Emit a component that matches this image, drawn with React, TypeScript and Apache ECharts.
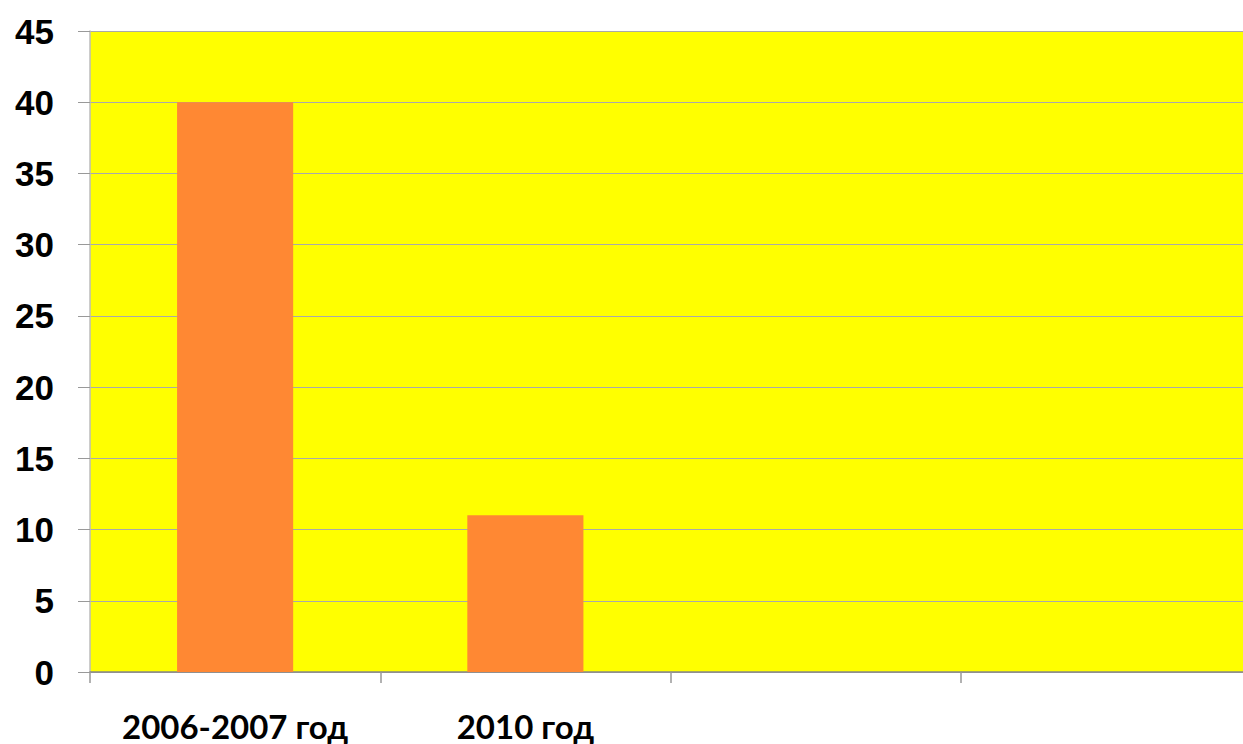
import React, { useEffect, useRef } from "react";
import * as echarts from "echarts";

const categories = ["2006-2007 год", "2010 год", "", ""];
const values = [40, 11, null, null];
const yTicks = { min: 0, max: 45, interval: 5 };

export default function App() {
  const ref = useRef<HTMLDivElement>(null);
  useEffect(() => {
    const chart = echarts.init(ref.current!, undefined, { renderer: "svg" });
    chart.setOption({
      animation: false,
      grid: {
        left: 90,
        right: 0,
        top: 31,
        bottom: 72,
        show: true,
        backgroundColor: "#FFFF00",
        borderWidth: 0,
      },
      xAxis: {
        type: "category",
        data: categories,
        axisLine: { show: true, lineStyle: { color: "#888888", width: 1.5 } },
        axisTick: { show: true, interval: 0, length: 11, alignWithLabel: false, lineStyle: { color: "#999999", width: 1.5 } },
        axisLabel: {
          interval: 0,
          margin: 37,
          color: "#000",
          fontFamily: "Lato",
          fontWeight: "bold",
          fontSize: 33,
        },
      },
      yAxis: {
        type: "value",
        min: yTicks.min,
        max: yTicks.max,
        interval: yTicks.interval,
        axisLine: { show: true, lineStyle: { color: "#BBBBBB", width: 1.5 } },
        axisTick: { show: true, length: 12, lineStyle: { color: "#999999", width: 1 } },
        splitLine: { show: true, lineStyle: { color: "#A9A9A9", width: 1 } },
        axisLabel: {
          margin: 36,
          color: "#000",
          fontFamily: "Liberation Sans",
          fontWeight: "bold",
          fontSize: 35,
        },
      },
      series: [
        {
          type: "bar",
          data: values,
          barWidth: "40%",
          itemStyle: { color: "#FF8833" },
        },
      ],
    });
    return () => chart.dispose();
  }, []);
  return (
    <div style={{ position: "fixed", left: 0, top: 0, width: 1243, height: 744, overflow: "hidden", background: "#fff" }}>
      <div ref={ref} style={{ width: 1251, height: 744 }} />
    </div>
  );
}
